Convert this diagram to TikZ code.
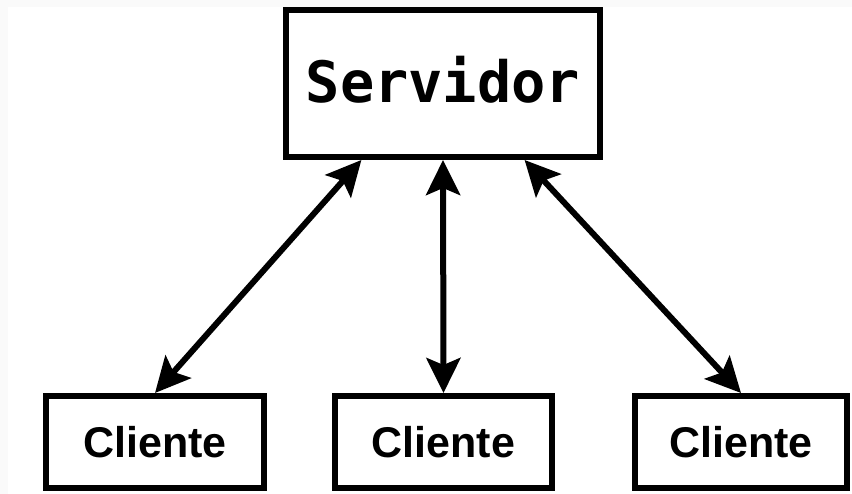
\documentclass[tikz,border=0pt]{standalone}
\usepackage{fontspec}
\newfontfamily\srvfont{DejaVu Sans Mono}
\newfontfamily\clifont{Liberation Sans}
\usetikzlibrary{arrows.meta,calc}

\begin{document}
\begin{tikzpicture}[x=1pt,y=-1pt,
    caixa/.style={draw,line width=6pt,fill=white,inner sep=0pt},
    cliente/.style={caixa,minimum width=#1,minimum height=92pt,font=\clifont\bfseries\fontsize{43}{45}\selectfont},
    seta/.style={{Stealth[length=35pt,width=34pt,inset=7pt]}-{Stealth[length=35pt,width=34pt,inset=7pt]},line width=6pt}]
    \useasboundingbox (0,0) rectangle (852,494);
    \fill[black!2] (0,0) rectangle (852,494);
    \fill[white] (8,7) rectangle (852,494);

    \node[caixa,minimum width=314pt,minimum height=147pt,text depth=9pt,
          font=\srvfont\bfseries\fontsize{57}{60}\selectfont] (servidor) at (443,83.5) {Servidor};

    \node[cliente=218pt] (cli1) at (155,442) {Cliente};
    \node[cliente=217pt] (cli2) at (443.5,442) {Cliente};
    \node[cliente=212pt] (cli3) at (741,442) {Cliente};

    % ligacoes cliente-servidor
    \draw[seta] (cli1.north) -- ($(servidor.south)!0.51!(servidor.south west)$);
    \draw[seta] (cli2.north) -- (servidor.south);
    \draw[seta] (cli3.north) -- ($(servidor.south)!0.51!(servidor.south east)$);
\end{tikzpicture}
\end{document}
